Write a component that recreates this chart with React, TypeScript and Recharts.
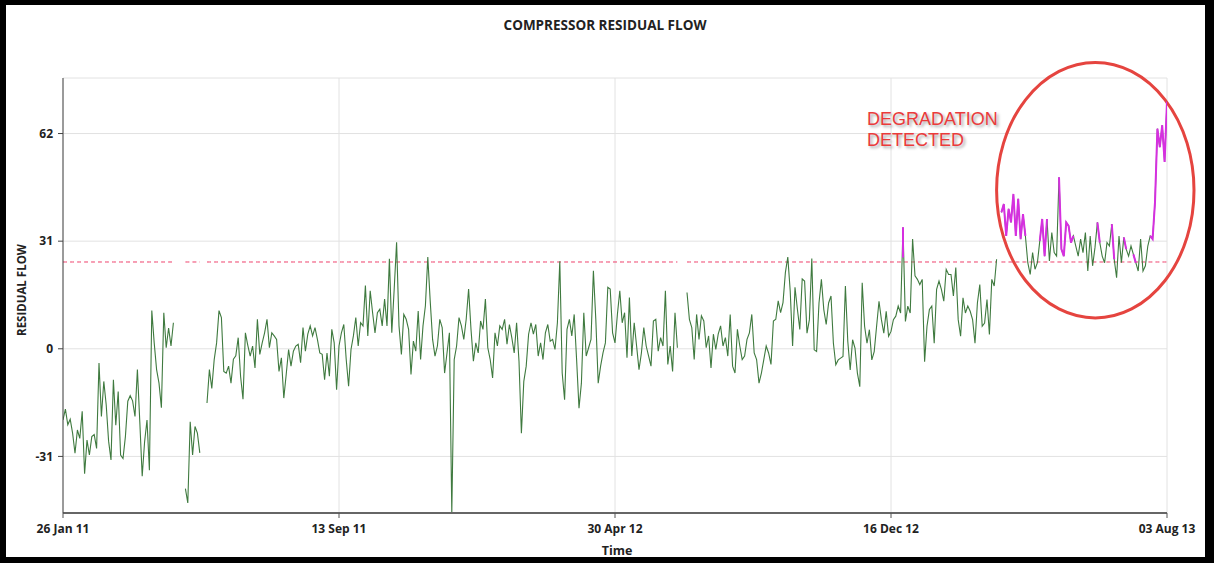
import React from 'react';
import { LineChart, Line, XAxis, YAxis, CartesianGrid, ReferenceArea } from 'recharts';

// ---- axis categories / ticks ----
const tickDays = [0, 230, 460, 690, 920];
const tickLabels = ['26 Jan 11', '13 Sep 11', '30 Apr 12', '16 Dec 12', '03 Aug 13'];
const yTicks = [-31, 0, 31, 62];

// one sample every 2 days starting 26 Jan 11
const DAY_STEP = 2;
const THRESHOLD = 25;

// residual flow values (null = no data)
const residual: (number | null)[] = [
  -20.5, -17.4, -21.9, -20.3, -24.3, -30.1, -23.4, -25.8, -18, -36,
  -26.3, -30.6, -25.3, -24.7, -28.7, -4.1, -19.5, -9.4, -16.1, -26.6,
  -32, -8.9, -22, -12.3, -30.6, -31.6, -25.3, -15.1, -13.5, -15,
  -19.5, -6, -21, -36.7, -26.8, -20.5, -35, 11, 1.7, -6,
  -9.9, -17, 10.4, 0.3, 6, 0.8, 7.5, null, null, null,
  null, -40.3, -44.4, -21, -30.6, -22.4, -24.3, -30, null, null,
  -15.6, -6, -11.4, -3.1, 1.7, 11, 9, -6.5, -7, -5,
  -9.9, -3, -2, 3.2, -8, -14.5, 4.6, 1, -2.1, 0.8,
  -5.5, 8.5, -1.6, 1.7, 4.6, 8.5, 0.3, 4.6, 3.7, 2.7,
  -6.5, -2.6, -14.2, -7.4, -0.2, -5, -0.7, 0.8, 1.3, -4,
  6.1, -0.7, 4.2, 6.6, 3.7, 6.1, 2.7, -1.2, -1.6, -8.9,
  -1.2, -7.9, 5.6, 1.7, -11.8, 0.8, 4.6, 7, -3, -10.8,
  -0.2, 3.7, 9, 0.8, 7.5, 6.6, 18.2, 3.7, 16.7, 10.4,
  4.6, 10.4, 11.4, 6.6, 14.3, 6.6, 25.9, 4.6, 17.2, 30.7,
  6.6, -1.6, 9.9, 8.5, 5.6, -7.4, 2.2, -0.7, 10.9, -3.1,
  6.6, 12.4, 26.4, 13.8, 2.7, -2.1, 0.8, 8.5, 6.1, -7,
  -1.2, 4.6, -47.3, -3.1, 0.8, 9, 6.6, 2.7, 8.5, 17.2,
  5.6, -3.6, 1.7, -1.2, 8, 5.6, 14.3, 0.3, -3.1, -8.4,
  4.6, 0.8, 6.6, 5.6, 8.5, 1.3, 7, 3.2, -1.2, 7.5,
  -3.6, -24.3, -9.4, -5, 4.2, 7.5, 4.2, 7, -2.1, 1.7,
  -3.1, 4.6, 7, 2.2, 2.7, -0.2, 7.5, 25.2, -7, -14.7,
  5.6, 8.5, 3.7, 9.9, -3.1, -17.1, -9.9, 10.4, -2.1, 0.3,
  2.7, 22.5, 8.5, -9.9, -5, -1.2, 1.7, 17.7, 17.2, 4.6,
  1.7, 9.9, 16.7, 7.5, 10.4, -2.6, 14.8, -2.1, 7.5, 0.8,
  -6, -1.2, 6.1, 0.8, -2.1, -5, 8, 8.5, -0.7, 3.2,
  0.8, 16.7, -4.5, 0.8, -6.5, 10.4, 0.3, null, null, null,
  16.2, 8.5, 6.1, -3.1, 9.9, 2.7, 9.5, 8, 0.3, 3.7,
  -5.5, 4.2, -0.2, 4.2, 6.6, 0.8, 3.2, -2.1, 9.9, -5,
  -7, 5.6, 0.8, -3.1, -2.1, 2.7, 4.6, 9.9, -1.2, -3.1,
  -9.9, -7, -3.1, 0.8, -1.2, -4.5, 8, 8.5, 13.8, 10.4,
  13.3, 22, 26.4, 16.7, 0.8, 17.7, 11.4, 5.6, 20.1, 19.5,
  4.5, 8.4, 26, -0.3, -0.8, 13.2, 20, 11.3, 7, 13.2,
  15.2, 1.6, -4.6, -3.2, -2.7, -2.2, 18.1, 2.1, -6.1, 2.6,
  0.2, -7, -10.9, 19, 6.5, 1.6, 5.5, -3.2, -0.8, 6.5,
  13.7, 8.4, 4.5, 10.8, 3.6, 5, 8.4, 9.4, 12.3, 10.3,
  35, 7.9, 12.3, 10.3, 31.6, 21, 20, 18.5, 20, -3.7,
  6.5, 11.3, 12.3, 1.6, 17.1, 19.5, 17.1, 13.7, 22.9, 21.4,
  21.4, 15.2, 23.4, 8.4, 3.6, 14.7, 10.3, 12.3, 10.8, 8.4,
  1.6, 13.2, 18.5, 6.5, 7.4, 14.2, 4.1, 20, 18.1, 25.8,
  null, 39.3, 41.7, 32.5, 40.3, 36.4, 44.6, 32.5, 43.2, 31.6,
  38.8, 32.5, 24.8, 21.4, 27.7, 22.9, 24.8, 31.1, 37.4, 26.7,
  37.4, 25.3, 33.5, 27.7, 26.7, 49.4, 28.7, 26.7, 36.4, 35.4,
  30.6, 32.5, 29.6, 26.7, 31.6, 27.7, 33.5, 22.4, 32.5, 23.9,
  29.2, 36.4, 30.6, 26.7, 24.8, 30.6, 29.6, 35.9, 25.8, 20.5,
  32.5, 24.8, 32.1, 28.7, 26.7, 29.6, 27.2, 24.8, 22.4, 31.6,
  22.4, 23.9, 29.6, 32.5, 31.6, 42.2, 63.4, 58.1, 64.4, 53.8,
  71.2,
];

// index ranges flagged as degradation (drawn in magenta)
const anomalyRuns: [number, number][] = [
  [391, 401], [407, 410], [415, 421], [431, 432], [437, 438], [442, 443], [446, 447], [453, 460],
];
// single flagged spike: magenta from base value up to the sample value
const spikeIndex = 350;
const spikeBase = 26.3;

// annotation ellipse bounds in data units
const ellipseBox = { x1: 778, x2: 942.5, y1: 8.9, y2: 82.5 };

const mainData = residual.map((v, i) => ({ t: i * DAY_STEP, v }));
const thresholdData = residual.map((v, i) => ({ t: i * DAY_STEP, v: v === null ? null : THRESHOLD }));
const anomalyData: { t: number; v: number | null }[] = [];
anomalyData.push({ t: spikeIndex * DAY_STEP, v: spikeBase });
anomalyData.push({ t: spikeIndex * DAY_STEP, v: residual[spikeIndex] });
anomalyData.push({ t: spikeIndex * DAY_STEP, v: null });
for (const [a, b] of anomalyRuns) {
  for (let i = a; i <= b; i++) anomalyData.push({ t: i * DAY_STEP, v: residual[i] });
  anomalyData.push({ t: b * DAY_STEP, v: null });
}

const FONT = '"Open Sans", "DejaVu Sans", sans-serif';

const EllipseShape = (props: any) => {
  const { x, y, width, height } = props;
  return (
    <ellipse
      cx={x + width / 2}
      cy={y + height / 2}
      rx={Math.abs(width) / 2}
      ry={Math.abs(height) / 2}
      fill="none"
      stroke="#e5443f"
      strokeWidth={3}
    />
  );
};

export default function App() {
  const tickStyle = { fontFamily: FONT, fontWeight: 700, fontSize: 12, fill: '#222' };
  return (
    <div style={{ position: 'absolute', left: 0, top: 0, width: 1214, height: 563, background: '#fff', overflow: 'hidden' }}>
      <div style={{ position: 'absolute', left: 0, top: 0 }}>
        <LineChart width={1214} height={563} margin={{ top: 78, right: 47, bottom: 20, left: 23 }}>
          <CartesianGrid stroke="#e2e2e2" strokeWidth={1} />
          <XAxis
            dataKey="t"
            type="number"
            domain={[0, 920]}
            ticks={tickDays}
            tickFormatter={(d: number) => tickLabels[tickDays.indexOf(d)] ?? ''}
            height={30}
            tick={tickStyle}
            tickSize={5}
            tickMargin={6}
            stroke="#666"
            axisLine={{ stroke: '#666', strokeWidth: 2 }}
            tickLine={{ stroke: '#555' }}
            allowDataOverflow
          />
          <YAxis
            type="number"
            domain={[-47.3, 78]}
            ticks={yTicks}
            width={40}
            tick={tickStyle}
            tickSize={5}
            tickMargin={5}
            axisLine={{ stroke: '#444', strokeWidth: 1 }}
            tickLine={{ stroke: '#444' }}
            allowDataOverflow
          />
          <Line
            data={thresholdData}
            dataKey="v"
            type="linear"
            stroke="#ee3f6a"
            strokeWidth={1}
            strokeDasharray="4 3"
            dot={false}
            activeDot={false}
            isAnimationActive={false}
          />
          <Line
            data={mainData}
            dataKey="v"
            type="linear"
            stroke="#3f7a3f"
            strokeWidth={1.1}
            dot={false}
            activeDot={false}
            isAnimationActive={false}
          />
          <Line
            data={anomalyData}
            dataKey="v"
            type="linear"
            stroke="#d62fe0"
            strokeWidth={2}
            dot={false}
            activeDot={false}
            isAnimationActive={false}
          />
          <ReferenceArea
            x1={ellipseBox.x1}
            x2={ellipseBox.x2}
            y1={ellipseBox.y1}
            y2={ellipseBox.y2}
            ifOverflow="visible"
            shape={EllipseShape}
          />
        </LineChart>
      </div>
      {/* title */}
      <div style={{ position: 'absolute', left: 0, width: 1208, top: 16, textAlign: 'center', fontFamily: FONT, fontWeight: 700, fontSize: 13.5, color: '#222', lineHeight: '18px' }}>
        <span style={{ position: 'relative', left: 1 }}>COMPRESSOR RESIDUAL FLOW</span>
      </div>
      {/* y-axis title */}
      <div style={{ position: 'absolute', left: 21, top: 290, transform: 'translate(-50%, -50%) rotate(-90deg)', whiteSpace: 'nowrap', fontFamily: FONT, fontWeight: 700, fontSize: 11.5, color: '#222' }}>
        RESIDUAL FLOW
      </div>
      {/* x-axis title */}
      <div style={{ position: 'absolute', left: 617, top: 550, transform: 'translate(-50%, -50%)', whiteSpace: 'nowrap', fontFamily: FONT, fontWeight: 700, fontSize: 12.5, color: '#222' }}>
        Time
      </div>
      {/* annotation */}
      <div style={{ position: 'absolute', left: 867, top: 109, fontFamily: '"Liberation Sans", Arial, sans-serif', fontSize: 18, lineHeight: '21px', color: '#ea3b3b', textShadow: '2px 2px 3px rgba(0,0,0,0.35)', whiteSpace: 'nowrap' }}>
        DEGRADATION<br />DETECTED
      </div>
      {/* frame */}
      <div style={{ position: 'absolute', left: 0, top: 0, width: 1214, height: 563, boxSizing: 'border-box', borderStyle: 'solid', borderColor: '#000', borderWidth: '5px 9px 6px 6px', pointerEvents: 'none' }} />
    </div>
  );
}
